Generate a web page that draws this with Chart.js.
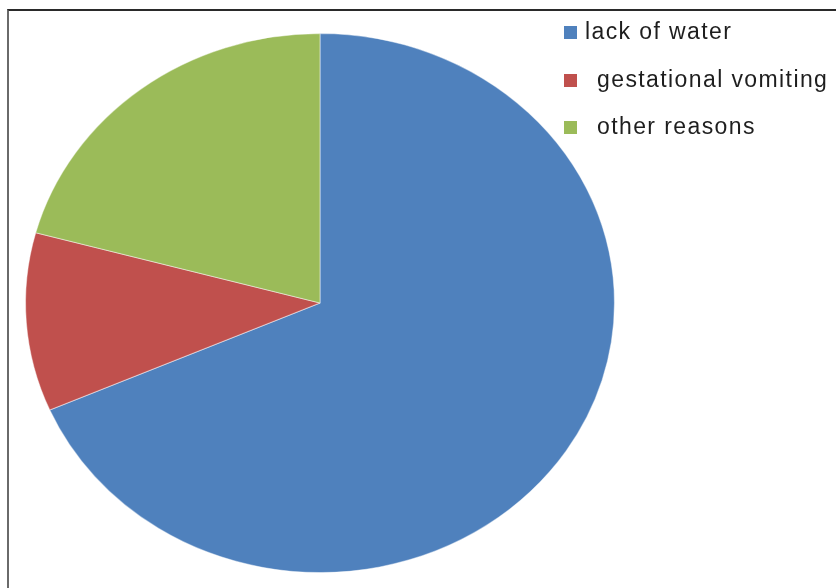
<!DOCTYPE html>
<html>
<head>
<meta charset="utf-8">
<script src="https://cdn.jsdelivr.net/npm/chart.js@4/dist/chart.umd.min.js"></script>
<style>
  html, body { margin: 0; padding: 0; background: #fff; }
  #wrap { position: relative; width: 836px; height: 588px; }
  #frame { position: absolute; left: 7px; top: 9px; right: 0; bottom: 0;
           border-top: 2px solid #2a2a2a; border-left: 2px solid #6a6a6a; }
  canvas { position: absolute; left: 0; top: 0; }
</style>
</head>
<body>
<div id="wrap">
  <div id="frame"></div>
  <canvas id="pieChart" width="836" height="588"></canvas>
</div>
<script>
// datos (porcentajes aproximados)
const categorias = ['lack of water', ' gestational vomiting', ' other reasons'];
const valores = [68.5, 10.7, 20.8];
const colores = ['#4F81BD', '#C0504D', '#9BBB59'];

// la torta original está estirada en horizontal (elipse)
const escalaX = 295 / 270;

const elipsePlugin = {
    id: 'elipse',
    beforeDatasetsDraw(chart) {
        const arc = chart.getDatasetMeta(0).data[0];
        const ctx = chart.ctx;
        ctx.save();
        ctx.translate(arc.x, arc.y);
        ctx.scale(escalaX, 1);
        ctx.translate(-arc.x, -arc.y);
    },
    afterDatasetsDraw(chart) {
        chart.ctx.restore();
    }
};

// leyenda dibujada a mano para respetar las posiciones
const leyendaPlugin = {
    id: 'leyenda',
    afterDraw(chart) {
        const ctx = chart.ctx;
        const filas = [32, 80, 127];
        ctx.save();
        ctx.font = '23px "Liberation Sans", Arial, sans-serif';
        ctx.letterSpacing = '1.4px';
        ctx.textBaseline = 'middle';
        chart.data.labels.forEach((label, i) => {
            const y = filas[i];
            ctx.fillStyle = colores[i];
            ctx.fillRect(564, y - 6, 13, 13);
            ctx.fillStyle = '#1e1e1e';
            ctx.fillText(label.trim(), i === 0 ? 585 : 597, y + 1);
        });
        ctx.restore();
    }
};

const ctx = document.getElementById('pieChart').getContext('2d');
const graficoTorta = new Chart(ctx, {
    type: 'pie',
    data: {
        labels: categorias,
        datasets: [{
            data: valores,
            backgroundColor: colores,
            borderColor: 'rgba(255,255,255,0.45)',
            borderWidth: 1
        }]
    },
    options: {
        responsive: false,
        animation: false,
        layout: {
            padding: { top: 33, bottom: 15, left: 50, right: 246 }
        },
        plugins: {
            legend: { display: false },
            tooltip: { enabled: false }
        }
    },
    plugins: [elipsePlugin, leyendaPlugin]
});
</script>
</body>
</html>
